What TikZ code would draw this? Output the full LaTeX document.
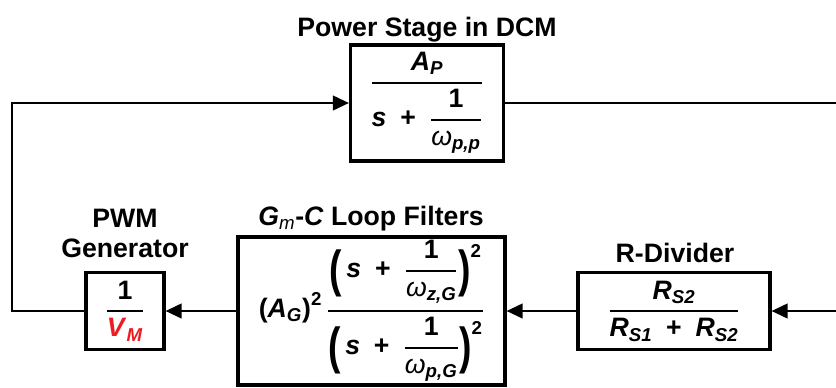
\documentclass[tikz,border=0pt]{standalone}
\usepackage{amsmath}
\usepackage{graphicx}
\usepackage{fontspec}
\setmainfont{Liberation Sans}
\usepackage{tikz}
\usepackage{xcolor}
\usetikzlibrary{arrows.meta, positioning}
\definecolor{cRed}{RGB}{237,28,36}
\newcommand{\vb}[1]{\textbf{\textit{#1}}}
\newcommand{\om}[1]{\textnormal{\textit{ω}}_{\vb{#1}}}
\newcommand{\blkfrac}[2]{\genfrac{}{}{1.5pt}{0}{#1}{#2}}
\newcommand{\plus}{\mathbin{\textbf{+}}}
\newcommand{\tallp}[1]{\raisebox{-7pt}{\scalebox{1.4}[1.9]{\textbf{#1}}}}
\tikzset{
	blk/.style ={rectangle, draw=black, line width=2.4pt, inner sep=0pt, align=center, fill=white},
	ttl/.style ={inner sep=0pt, align=center},
	sig/.style ={-{Triangle[length=12pt, width=11pt]}, line width=1.6pt},
	wire/.style={line width=1.6pt},
}

\begin{document}
\begin{tikzpicture}[x=0.75pt, y=-0.75pt, font=\fontsize{20}{22.5}\selectfont\bfseries]
	\useasboundingbox (0,0) rectangle (836,387);
	% blocks
	\node[blk, minimum width=114.75pt, minimum height=87pt] (pwr) at (427,103)
		{$\blkfrac{\vb{A}_{\vb{P}}}{\vb{s}\;\plus\;\blkfrac{\textbf{1}}{\om{p,p}}}$};
	\node[blk, minimum width=58.5pt, minimum height=57.75pt] (pwm) at (125,311)
		{$\blkfrac{\textbf{1}}{\color{cRed}\vb{V}_{\vb{M}}}$};
	\node[blk, minimum width=200.25pt, minimum height=111pt] (flt) at (371.5,311)
		{$\textbf{(}\vb{A}_{\vb{G}}\textbf{)}^{\textbf{2}}\,
		\blkfrac{\mathopen{\tallp(}\,\vb{s}\;\plus\;\blkfrac{\textbf{1}}{\om{z,G}}\mathclose{\tallp)}^{\textbf{2}}}
		{\mathopen{\tallp(}\,\vb{s}\;\plus\;\blkfrac{\textbf{1}}{\om{p,G}}\mathclose{\tallp)}^{\textbf{2}}}$};
	\node[blk, minimum width=144pt, minimum height=57.75pt] (rdiv) at (674,311)
		{$\blkfrac{\vb{R}_{\vb{S2}}}{\vb{R}_{\vb{S1}}\;\plus\;\vb{R}_{\vb{S2}}}$};
	% titles
	\node[ttl, anchor=base] (pwrttl) at (427,36.5) {Power Stage in DCM};
	\node[ttl, anchor=base] (pwmttl) at (125,257) {PWM\\Generator};
	\node[ttl, anchor=base] (fltttl) at (371,225) {$\vb{G}_{\textnormal{\textit{m}}}$-\textit{C} Loop Filters};
	\node[ttl, anchor=base] (rdivttl) at (675,262) {R-Divider};
	% loop
	\coordinate (lt) at (12,103);
	\coordinate (lb) at (12,311);
	\coordinate (rt) at (836,103);
	\coordinate (rb) at (836,311);
	\draw[sig] (rb) -- (rdiv);
	\draw[sig] (rdiv) -- (flt);
	\draw[sig] (flt) -- (pwm);
	\draw[sig] (pwm.west) -- (lb) -- (lt) -- (pwr.west);
	\draw[wire] (pwr) -- (rt);
\end{tikzpicture}
\end{document}
